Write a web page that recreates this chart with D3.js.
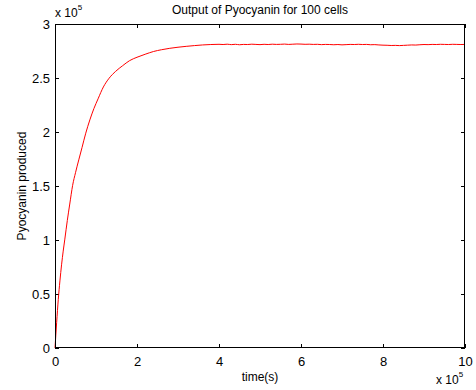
<!DOCTYPE html>
<html><head><meta charset="utf-8">
<script src="https://cdn.jsdelivr.net/npm/d3@7"></script>
<style>body{margin:0;background:#fff}svg{display:block}text{font-family:"Liberation Sans",Arial,sans-serif;fill:#000}</style>
</head><body><svg id="c" width="476" height="390"></svg>
<script>
// time in units of 1e3 s, values in units of 1e5
const riseTime = [0,4,8,12,16,20,24,30,36,43,50,58,66,75,85,95,105,118,132,148,165,182,200,220,240,260,280,300,320,340,360,380,400];
const riseVal  = [0,0.234,0.449,0.621,0.770,0.897,1.008,1.180,1.333,1.506,1.623,1.742,1.857,1.989,2.112,2.218,2.307,2.417,2.498,2.562,2.614,2.661,2.692,2.720,2.745,2.762,2.775,2.785,2.793,2.800,2.806,2.810,2.812];
const plateauTime = [410,420,430,440,450,460,470,480,490,500,510,520,530,540,550,560,570,580,590,600,610,620,630,640,650,660,670,680,690,700,710,720,730,740,750,760,770,780,790,800,810,820,830,840,850,860,870,880,890,900,910,920,930,940,950,960,970,980,990,1000];
const plateauVal  = [2.810,2.813,2.809,2.812,2.808,2.811,2.810,2.813,2.811,2.809,2.812,2.810,2.813,2.811,2.812,2.814,2.811,2.813,2.815,2.814,2.812,2.813,2.811,2.812,2.809,2.811,2.810,2.808,2.810,2.807,2.809,2.811,2.810,2.812,2.810,2.811,2.808,2.809,2.806,2.804,2.803,2.801,2.802,2.800,2.802,2.804,2.806,2.805,2.808,2.810,2.809,2.811,2.810,2.812,2.811,2.810,2.812,2.811,2.810,2.811];
const xTicks = [0,2,4,6,8,10];
const yTicks = [0,0.5,1,1.5,2,2.5,3];
const title = "Output of Pyocyanin for 100 cells";
const xLabel = "time(s)";
const yLabel = "Pyocyanin produced";

const times = riseTime.concat(plateauTime);
const vals = riseVal.concat(plateauVal);
const data = times.map((t,i)=>({t:t*1e3, v:vals[i]*1e5}));

const L=55,R=465,T=24,B=348;
const svg=d3.select("#c");
const x=d3.scaleLinear().domain([0,1e6]).range([L,R]);
const y=d3.scaleLinear().domain([0,3e5]).range([B,T]);

svg.append("rect").attr("x",L).attr("y",T).attr("width",R-L).attr("height",B-T).attr("fill","#fff");

const fmtX=d=>String(d/1e5);
const tv=xTicks.map(d=>d*1e5), yv=yTicks.map(d=>d*1e5);

const gx=svg.append("g").attr("transform",`translate(0,${B})`).call(d3.axisBottom(x).tickValues(tv).tickFormat(fmtX).tickSizeInner(-4).tickSizeOuter(0).tickPadding(9));
const gxt=svg.append("g").attr("transform",`translate(0,${T})`).call(d3.axisTop(x).tickValues(tv).tickFormat("").tickSizeInner(-4).tickSizeOuter(0));
const gy=svg.append("g").attr("transform",`translate(${L},0)`).call(d3.axisLeft(y).tickValues(yv).tickFormat(d=>String(d/1e5)).tickSizeInner(-4).tickSizeOuter(0).tickPadding(5));
const gyr=svg.append("g").attr("transform",`translate(${R},0)`).call(d3.axisRight(y).tickValues(yv).tickFormat("").tickSizeInner(-4).tickSizeOuter(0));
[gx,gxt,gy,gyr].forEach(g=>{g.select(".domain").remove();g.selectAll("line").attr("stroke","#000");g.selectAll("text").attr("font-size",13).attr("font-family","Liberation Sans, Arial, sans-serif").attr("fill","#000");});

svg.append("path").datum(data).attr("fill","none").attr("stroke","#ff0000").attr("stroke-width",1)
  .attr("d",d3.line().curve(d3.curveMonotoneX).x(d=>x(d.t)).y(d=>y(d.v)));

svg.append("rect").attr("x",L+0.5).attr("y",T+0.5).attr("width",R-L-1).attr("height",B-T-1).attr("fill","none").attr("stroke","#000").attr("stroke-width",1);

svg.append("text").attr("x",(L+R)/2).attr("y",14).attr("text-anchor","middle").attr("font-size",12).text(title);
svg.append("text").attr("x",(L+R)/2).attr("y",381).attr("text-anchor","middle").attr("font-size",12).text(xLabel);
svg.append("text").attr("transform",`translate(26,${(T+B)/2}) rotate(-90)`).attr("text-anchor","middle").attr("font-size",12).text(yLabel);

function expo(xp,yb){const t=svg.append("text").attr("x",xp).attr("y",yb).attr("font-size",12);t.append("tspan").text("x 10");t.append("tspan").attr("dy",-7).attr("font-size",8).text("5");}
expo(55,17);
expo(436,384);
</script></body></html>
